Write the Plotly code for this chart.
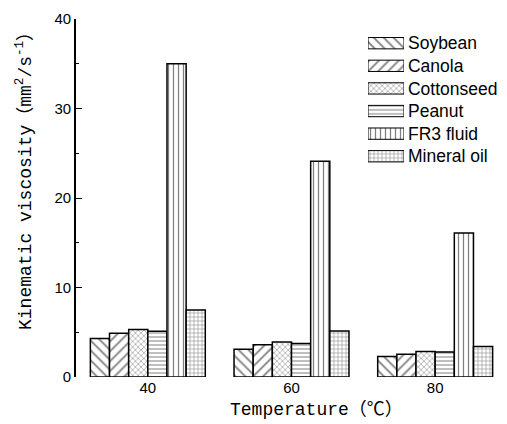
import plotly.graph_objects as go

temperatures = ["40", "60", "80"]
soybean = [4.3, 3.1, 2.3]
canola = [4.9, 3.6, 2.55]
cottonseed = [5.3, 3.9, 2.85]
peanut = [5.1, 3.75, 2.8]
fr3_fluid = [35.0, 24.1, 16.1]
mineral_oil = [7.5, 5.15, 3.4]

series_names = ["Soybean", "Canola", "Cottonseed", "Peanut", "FR3 fluid", "Mineral oil"]
series_values = [soybean, canola, cottonseed, peanut, fr3_fluid, mineral_oil]
pattern_shapes = ["\\", "/", "x", "-", "|", "+"]
pattern_sizes = [7, 7, 4, 4, 5, 4]

fig = go.Figure()
for name, vals, shape, size in zip(series_names, series_values, pattern_shapes, pattern_sizes):
    pat = dict(shape=shape, size=size, solidity=0.25, fgcolor="black", bgcolor="white")
    fig.add_trace(go.Bar(
        name=name, x=temperatures, y=vals, showlegend=False,
        marker=dict(color="white", line=dict(color="black", width=1.5), pattern=pat),
    ))
    # legend swatch (drawn in a small inset axis)
    fig.add_trace(go.Bar(
        name=name, y=[name], x=[1], orientation="h", width=0.5,
        xaxis="x2", yaxis="y2", showlegend=False, hoverinfo="skip",
        marker=dict(color="white", line=dict(color="black", width=1), pattern=pat),
    ))

fig.update_layout(
    width=499, height=416,
    margin=dict(l=68, r=0, t=11, b=47),
    paper_bgcolor="white", plot_bgcolor="white",
    barmode="group", bargap=0.2, bargroupgap=0,
    font=dict(family="Liberation Sans, Arial", color="black", size=15),
    showlegend=False,
    xaxis2=dict(domain=[0.6775, 0.761], range=[0, 1], anchor="y2",
                visible=False, fixedrange=True),
    yaxis2=dict(domain=[0.585, 0.964], anchor="x2", type="category",
                categoryorder="array", categoryarray=series_names[::-1],
                range=[-0.5, 5.5], side="right", showline=False, ticks="",
                showgrid=False, zeroline=False, tickfont=dict(size=17.5),
                ticklabelstandoff=3),
)
fig.update_xaxes(
    selector=dict(anchor="y"),
    type="category", range=[-0.49, 2.44],
    showline=True, linecolor="black", linewidth=1.6, mirror=True,
    ticks="inside", tickson="boundaries", ticklen=4, tickcolor="black",
    showgrid=False, tickfont=dict(size=15),
)
fig.update_layout(yaxis=dict(
    range=[0, 40], dtick=10,
    showline=True, linecolor="black", linewidth=1.6,
    ticks="inside", ticklen=6, tickcolor="black",
    minor=dict(dtick=5, ticks="inside", ticklen=3, tickcolor="black", showgrid=False),
    showgrid=False, zeroline=False, tickfont=dict(size=15),
))
fig.add_annotation(
    text="Kinematic viscosity（mm<sup>2</sup>/s<sup>-1</sup>）",
    xref="paper", yref="paper", x=-0.118, y=0.559, xanchor="center", yanchor="middle",
    textangle=-90, showarrow=False,
    font=dict(family="Liberation Mono, Noto Sans CJK SC", size=18, color="black"),
)
fig.add_annotation(
    text="Temperature（℃）",
    xref="paper", yref="paper", x=0.353, y=-0.092, xanchor="left", yanchor="middle",
    showarrow=False,
    font=dict(family="Liberation Mono, Noto Sans CJK SC", size=18, color="black"),
)
fig.write_html("out.html")
